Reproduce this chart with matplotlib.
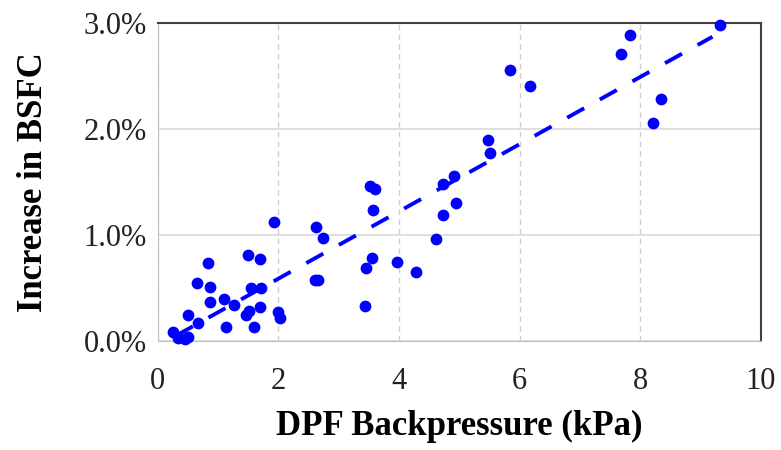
import numpy as np
import matplotlib.pyplot as plt
from matplotlib.ticker import FuncFormatter

# DPF backpressure (kPa) and BSFC increase (%)
backpressure = [0.25, 0.33, 0.50, 0.45, 0.50, 0.66, 0.65, 0.83, 0.87, 0.86,
                1.10, 1.13, 1.27, 1.49, 1.70, 1.55, 1.71, 1.69, 1.52, 1.46,
                1.60, 1.92, 2.00, 2.02, 2.63, 2.74, 2.60, 2.66, 3.44, 3.45,
                3.56, 3.52, 3.61, 3.57, 3.97, 4.29, 4.61, 4.73, 4.94, 4.73,
                4.92, 5.48, 5.51, 5.84, 6.18, 7.69, 7.84, 8.21, 8.34, 9.32]
bsfc_increase = [0.09, 0.03, 0.04, 0.02, 0.25, 0.17, 0.55, 0.74, 0.51, 0.37,
                 0.40, 0.13, 0.34, 0.81, 0.77, 0.50, 0.50, 0.32, 0.28, 0.25,
                 0.13, 1.12, 0.27, 0.22, 1.08, 0.97, 0.58, 0.58, 0.33, 0.69,
                 0.78, 1.46, 1.43, 1.24, 0.75, 0.65, 0.96, 1.19, 1.30, 1.48,
                 1.56, 1.90, 1.77, 2.56, 2.41, 2.71, 2.89, 2.06, 2.28, 2.98]

# trend line end points
trend_x = [0.3, 9.2]
trend_y = [0.05, 2.87]

plt.rcParams['font.family'] = ['Liberation Serif', 'DejaVu Serif']

fig = plt.figure(figsize=(7.81, 4.50), dpi=100)
ax = fig.add_axes([0.202, 0.242, 0.772, 0.707])

ax.plot(trend_x, trend_y, color='#0000ff', lw=2.8, dashes=(5, 4.6), zorder=2)
ax.scatter(backpressure, bsfc_increase, s=72, color='#0000ff', zorder=3,
           clip_on=False, linewidths=0)

ax.set_xlim(0, 10)
ax.set_ylim(0, 3)
ax.set_xticks([0, 2, 4, 6, 8, 10])
ax.set_yticks([0, 1, 2, 3])
ax.yaxis.set_major_formatter(FuncFormatter(lambda v, p: f"{v:.1f}%"))

ax.grid(axis='y', color='#d9d9d9', lw=1.2, ls='-')
ax.grid(axis='x', color='#cfcfcf', lw=1.0, ls=(0, (4, 3)))
ax.set_axisbelow(True)

ax.spines['left'].set_color('#c0c0c0')
ax.spines['bottom'].set_color('#c0c0c0')
ax.spines['top'].set_color('#404040')
ax.spines['right'].set_color('#404040')
ax.spines['top'].set_linewidth(1.5)
ax.spines['right'].set_linewidth(1.5)

ax.tick_params(length=0, labelsize=22, colors='#222222')
ax.tick_params(axis='x', pad=19)
ax.tick_params(axis='y', pad=8)
ax.set_xlabel("DPF Backpressure (kPa)", fontsize=25, fontweight='bold', labelpad=10)
ax.set_ylabel("Increase in BSFC", fontsize=25, fontweight='bold', labelpad=24)

fig.savefig("out.png", dpi=100)
